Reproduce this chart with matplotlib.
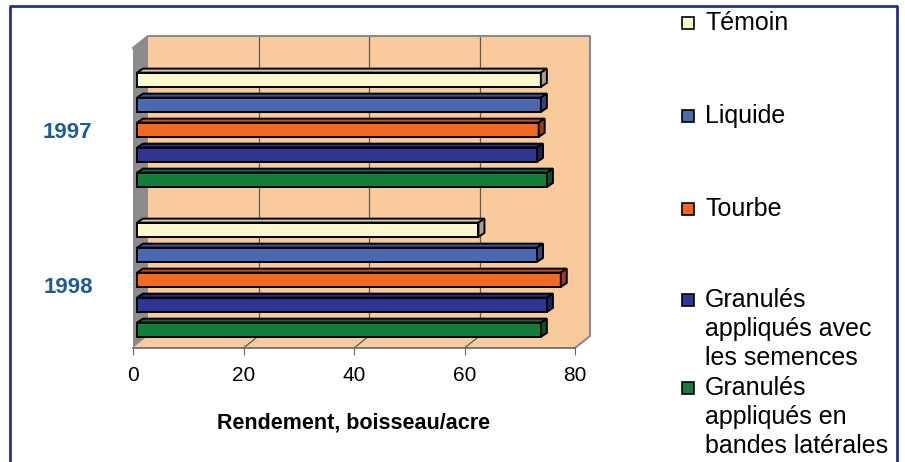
import numpy as np
import matplotlib.pyplot as plt
from matplotlib.patches import Rectangle, Polygon
from matplotlib.lines import Line2D

plt.rcParams["font.family"] = ["Liberation Sans", "DejaVu Sans"]

years = ["1997", "1998"]
treatments = ["Témoin", "Liquide", "Tourbe",
              "Granulés\nappliqués avec\nles semences",
              "Granulés\nappliqués en\nbandes latérales"]
yield_1997 = [73.1, 73.1, 72.7, 72.4, 74.2]
yield_1998 = [61.8, 72.4, 76.7, 74.2, 73.1]
xticks = [0, 20, 40, 60, 80]

face_colors = ["#FBF8CD", "#4A69B2", "#F26A21", "#2E3592", "#157D3C"]
top_colors = ["#C9C7A6", "#3A5598", "#C0501C", "#25297A", "#10643A"]
side_colors = ["#A3A28A", "#2F4582", "#9A3F14", "#1C1F62", "#0C4F2C"]
wall_color = "#F9CB9C"
side_wall_color = "#8C8C8C"
frame_color = "#2B2F86"

W, H = 905, 462
fig = plt.figure(figsize=(W / 100, H / 100), dpi=100)
ax = fig.add_axes([133 / W, (H - 348) / H, 442 / W, 300 / H])
ax.set_xlim(0, 80)
ax.set_ylim(2, 0)

# pixel -> data unit factors
ux = 80 / 442
uy = 2 / 300

# walls and floor of the 3-d box
wdx, wdy = 15 * ux, 12 * uy
ax.add_patch(Rectangle((wdx, -wdy), 80, 2, fc=wall_color, ec="none", zorder=0, clip_on=False))
ax.add_patch(Polygon([(0, 0), (wdx, -wdy), (wdx, 2 - wdy), (0, 2)],
                     fc=side_wall_color, ec="none", zorder=0, clip_on=False))
ax.add_patch(Polygon([(0, 2), (80, 2), (80 + wdx, 2 - wdy), (wdx, 2 - wdy)],
                     fc=wall_color, ec="none", zorder=0, clip_on=False))
for t in xticks[1:-1]:
    ax.plot([t + wdx, t + wdx], [-wdy, 2 - wdy], color="#5A5A5A", lw=0.9, zorder=1, clip_on=False)
    ax.plot([t, t + wdx], [2, 2 - wdy], color="#5A5A5A", lw=0.9, zorder=1, clip_on=False)
ax.plot([0, wdx, 80 + wdx, 80 + wdx, 80], [0, -wdy, -wdy, 2 - wdy, 2],
        color="#8A8A8A", lw=1.5, zorder=1, clip_on=False)

# bars with a small depth
bdx, bdy = 6 * ux, 4 * uy
x0 = 4 * ux
h = 0.095
step = 0.1667
for g, vals in enumerate([yield_1997, yield_1998]):
    for k, v in enumerate(vals):
        yc = g + 0.5 + 0.045 + (k - 2) * step
        ax.barh(yc, v, left=x0, height=h, color=face_colors[k], edgecolor="black",
                lw=1.4, zorder=3, clip_on=False)
        yt = yc - h / 2
        ax.add_patch(Polygon([(x0, yt), (x0 + v, yt), (x0 + v + bdx, yt - bdy), (x0 + bdx, yt - bdy)],
                             fc=top_colors[k], ec="black", lw=1.4, zorder=3, clip_on=False))
        ax.add_patch(Polygon([(x0 + v, yt), (x0 + v + bdx, yt - bdy), (x0 + v + bdx, yt + h - bdy),
                              (x0 + v, yt + h)],
                             fc=side_colors[k], ec="black", lw=1.4, zorder=3, clip_on=False))

for s in ["top", "right", "left"]:
    ax.spines[s].set_visible(False)
ax.spines["bottom"].set_color("#666666")
ax.spines["bottom"].set_linewidth(1.2)
ax.set_xticks(xticks)
ax.tick_params(axis="x", length=5, color="#666666", labelsize=15, pad=8)
ax.set_yticks([0.55, 1.58])
ax.set_yticklabels(years, fontsize=16, fontweight="bold", color="#1F5A94")
ax.tick_params(axis="y", length=0, pad=29)
ax.set_xlabel("Rendement, boisseau/acre", fontsize=15.5, fontweight="bold", labelpad=20)

# legend, one text line at a time so the swatch sits on the first line
base_y = [30, 123, 216, 307, 395]
line_gap = 29
for k, lab in enumerate(treatments):
    yb = 1 - base_y[k] / H
    fig.add_artist(Rectangle((682 / W, yb + 1 / H), 12 / W, 12 / H, transform=fig.transFigure,
                             fc=face_colors[k], ec="black", lw=1.2))
    for i, line in enumerate(lab.split("\n")):
        fig.text(705 / W, yb - i * line_gap / H, line, fontsize=18, va="baseline", ha="left")

# outer frame
fig.add_artist(Line2D([10 / W, 10 / W, 897 / W, 897 / W], [0, 1 - 6 / H, 1 - 6 / H, 0],
                      transform=fig.transFigure, color=frame_color, lw=2))

fig.savefig("out.png", dpi=100)
